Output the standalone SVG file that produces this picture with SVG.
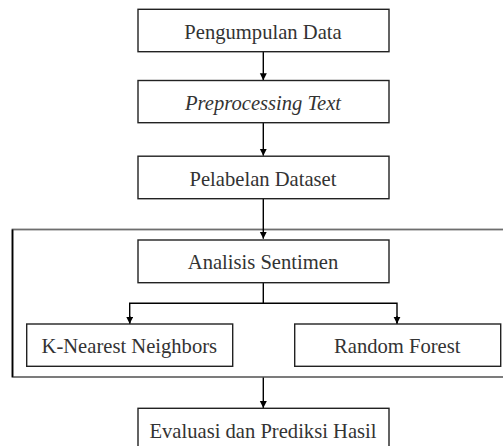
<svg xmlns="http://www.w3.org/2000/svg" width="503" height="446" viewBox="0 0 503 446" font-family="'Liberation Serif', 'DejaVu Serif', serif">
<style>
.box{fill:#fff;stroke:#222;stroke-width:1.4}
.t{font-family:'Liberation Serif','DejaVu Serif',serif;font-size:20.6px;fill:#333;text-anchor:middle}
.c{fill:none;stroke:#000;stroke-width:1.4}
</style>
<defs>
<marker id="ah" markerWidth="7" markerHeight="8" refX="7" refY="3.5" orient="auto" markerUnits="userSpaceOnUse">
<path d="M0,0 L7,3.5 L0,7 Z" fill="#000"/>
</marker>
</defs>
<rect id="container" x="12.5" y="229.5" width="495" height="147.5" fill="none" stroke="#6e6e6e" stroke-width="1.8"/>
<line x1="12.5" y1="229.5" x2="12.5" y2="377" stroke="#000" stroke-width="1.6"/>
<g id="connectors">
<line class="c" x1="263.3" y1="51.7" x2="263.3" y2="80.3" marker-end="url(#ah)"/>
<line class="c" x1="263.3" y1="122.7" x2="263.3" y2="155.8" marker-end="url(#ah)"/>
<line class="c" x1="263.3" y1="198.7" x2="263.3" y2="238.8" marker-end="url(#ah)"/>
<polyline class="c" points="263.3,282.7 263.3,303.3 129.7,303.3 129.7,323.8"/>
<line class="c" x1="129.7" y1="316" x2="129.7" y2="323.8" marker-end="url(#ah)"/>
<polyline class="c" points="263.3,303.3 397,303.3 397,323.8"/>
<line class="c" x1="397" y1="316" x2="397" y2="323.8" marker-end="url(#ah)"/>
<line class="c" x1="263.3" y1="377.5" x2="263.3" y2="408" marker-end="url(#ah)"/>
</g>
<g id="pengumpulan">
<rect class="box" x="138" y="9.3" width="251" height="42.4"/>
<text class="t" x="263" y="39">Pengumpulan Data</text>
</g>
<g id="preprocessing">
<rect class="box" x="138" y="80.5" width="251" height="42.2"/>
<text class="t" x="263" y="110" font-style="italic">Preprocessing Text</text>
</g>
<g id="pelabelan">
<rect class="box" x="138" y="156.2" width="251" height="42.5"/>
<text class="t" x="263" y="185.5">Pelabelan Dataset</text>
</g>
<g id="analisis">
<rect class="box" x="138" y="240" width="251" height="42.7"/>
<text class="t" x="263" y="269.3">Analisis Sentimen</text>
</g>
<g id="knn">
<rect class="box" x="26.7" y="324" width="206" height="42.3"/>
<text class="t" x="129.3" y="353.3">K-Nearest Neighbors</text>
</g>
<g id="rf">
<rect class="box" x="294.7" y="324" width="206" height="42.3"/>
<text class="t" x="397.3" y="353.3">Random Forest</text>
</g>
<g id="evaluasi">
<rect class="box" x="138" y="408.3" width="251" height="42"/>
<text class="t" x="263" y="437.8">Evaluasi dan Prediksi Hasil</text>
</g>
</svg>
